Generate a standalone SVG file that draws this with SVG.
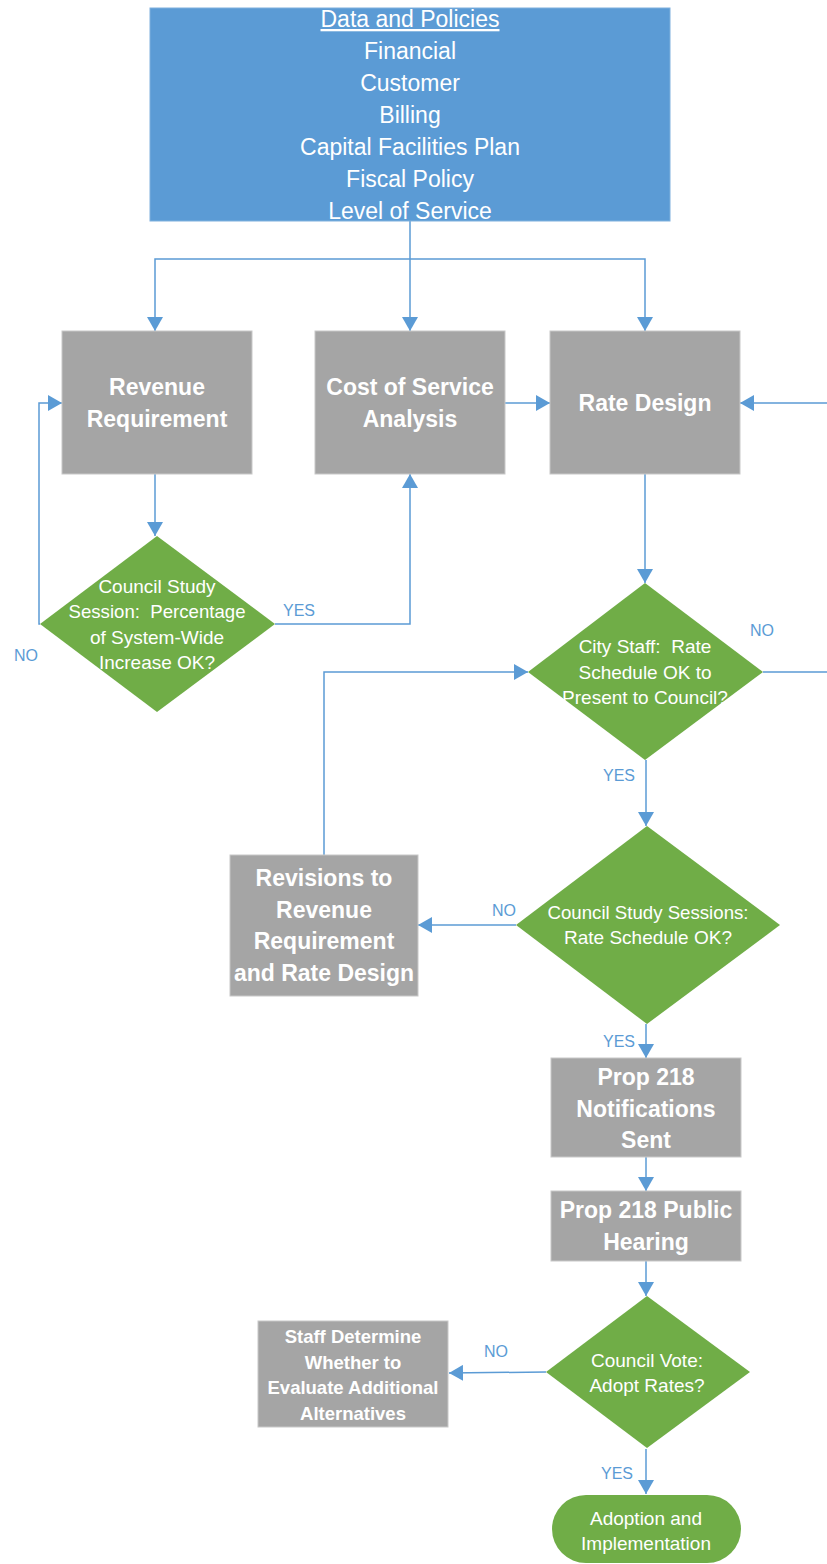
<svg xmlns="http://www.w3.org/2000/svg" width="827" height="1564" viewBox="0 0 827 1564">
<defs>
<style>
.blue{fill:#5B9BD5;}
.gray{fill:#A5A5A5;stroke:#C8C8C8;stroke-width:1;}
.green{fill:#70AD47;}
.t{font-family:"Liberation Sans",Arial,sans-serif;fill:#FFFFFF;text-anchor:middle;}
.top{font-size:23px;}
.b{font-size:23px;font-weight:bold;}
.bs{font-size:18.5px;font-weight:bold;}
.d{font-size:19px;}
.lbl{font-family:"Liberation Sans",Arial,sans-serif;font-size:16px;fill:#5B9BD5;}
.c{fill:none;stroke:#5B9BD5;stroke-width:1.5;}
</style>
<marker id="arr" markerUnits="userSpaceOnUse" markerWidth="14" markerHeight="16" viewBox="0 0 14 16" refX="14" refY="8" orient="auto">
<path d="M0,0 L14,8 L0,16 z" fill="#5B9BD5"/>
</marker>
</defs>
<rect width="827" height="1564" fill="#FFFFFF"/>

<g id="connectors">
<path class="c" d="M410,221 V331" marker-end="url(#arr)"/>
<path class="c" d="M410,259 H155 V331" marker-end="url(#arr)"/>
<path class="c" d="M410,259 H645 V331" marker-end="url(#arr)"/>
<path class="c" d="M505,403 H550" marker-end="url(#arr)"/>
<path class="c" d="M763,672 H832 V403 H740" marker-end="url(#arr)"/>
<path class="c" d="M155,474 V536" marker-end="url(#arr)"/>
<path class="c" d="M275,624 H410 V474" marker-end="url(#arr)"/>
<path class="c" d="M40,624 H39 V403 H62" marker-end="url(#arr)"/>
<path class="c" d="M645,474 V583" marker-end="url(#arr)"/>
<path class="c" d="M324,855 V672 H528" marker-end="url(#arr)"/>
<path class="c" d="M646,760 V826" marker-end="url(#arr)"/>
<path class="c" d="M516,925 H418" marker-end="url(#arr)"/>
<path class="c" d="M646,1024 V1058" marker-end="url(#arr)"/>
<path class="c" d="M646,1157 V1191" marker-end="url(#arr)"/>
<path class="c" d="M646,1261 V1296" marker-end="url(#arr)"/>
<path class="c" d="M546,1372 L449,1373" marker-end="url(#arr)"/>
<path class="c" d="M646,1449 V1494" marker-end="url(#arr)"/>
<text class="lbl" x="283" y="616">YES</text>
<text class="lbl" x="14" y="661">NO</text>
<text class="lbl" x="750" y="636">NO</text>
<text class="lbl" x="603" y="781">YES</text>
<text class="lbl" x="492" y="916">NO</text>
<text class="lbl" x="603" y="1047">YES</text>
<text class="lbl" x="484" y="1357">NO</text>
<text class="lbl" x="601" y="1479">YES</text>
</g>

<g id="data-policies">
<rect class="blue" x="150" y="8" width="520" height="213" stroke="#7FB0DD" stroke-width="1"/>
<text class="t top" x="410" y="27" text-decoration="underline">Data and Policies</text>
<text class="t top" x="410" y="59">Financial</text>
<text class="t top" x="410" y="91">Customer</text>
<text class="t top" x="410" y="123">Billing</text>
<text class="t top" x="410" y="155">Capital Facilities Plan</text>
<text class="t top" x="410" y="187">Fiscal Policy</text>
<text class="t top" x="410" y="219">Level of Service</text>
</g>

<g id="revenue-requirement">
<rect class="gray" x="62" y="331" width="190" height="143"/>
<text class="t b" x="157" y="395">Revenue</text>
<text class="t b" x="157" y="427">Requirement</text>
</g>

<g id="cost-of-service">
<rect class="gray" x="315" y="331" width="190" height="143"/>
<text class="t b" x="410" y="395">Cost of Service</text>
<text class="t b" x="410" y="427">Analysis</text>
</g>

<g id="rate-design">
<rect class="gray" x="550" y="331" width="190" height="143"/>
<text class="t b" x="645" y="411">Rate Design</text>
</g>

<g id="council-study-1">
<polygon class="green" points="157,536 275,624 157,712 40,624"/>
<text class="t d" x="157" y="593">Council Study</text>
<text class="t d" x="157" y="618" xml:space="preserve" textLength="177" lengthAdjust="spacingAndGlyphs">Session:  Percentage</text>
<text class="t d" x="157" y="644">of System-Wide</text>
<text class="t d" x="157" y="669">Increase OK?</text>
</g>

<g id="city-staff">
<polygon class="green" points="645,583 763,672 645,760 528,672"/>
<text class="t d" x="645" y="653" xml:space="preserve">City Staff:  Rate</text>
<text class="t d" x="645" y="679">Schedule OK to</text>
<text class="t d" x="645" y="704">Present to Council?</text>
</g>

<g id="revisions">
<rect class="gray" x="230" y="855" width="188" height="141"/>
<text class="t b" x="324" y="886">Revisions to</text>
<text class="t b" x="324" y="918">Revenue</text>
<text class="t b" x="324" y="949">Requirement</text>
<text class="t b" x="324" y="981" textLength="180" lengthAdjust="spacingAndGlyphs">and Rate Design</text>
</g>

<g id="council-study-2">
<polygon class="green" points="647,826 780,925 647,1024 516,925"/>
<text class="t d" x="648" y="919" textLength="201" lengthAdjust="spacingAndGlyphs">Council Study Sessions:</text>
<text class="t d" x="648" y="944">Rate Schedule OK?</text>
</g>

<g id="prop218-notifications">
<rect class="gray" x="551" y="1058" width="190" height="99"/>
<text class="t b" x="646" y="1085">Prop 218</text>
<text class="t b" x="646" y="1117">Notifications</text>
<text class="t b" x="646" y="1148">Sent</text>
</g>

<g id="prop218-hearing">
<rect class="gray" x="551" y="1191" width="190" height="70"/>
<text class="t b" x="646" y="1218">Prop 218 Public</text>
<text class="t b" x="646" y="1250">Hearing</text>
</g>

<g id="council-vote">
<polygon class="green" points="647,1296 750,1372 647,1448 546,1372"/>
<text class="t d" x="647" y="1367">Council Vote:</text>
<text class="t d" x="647" y="1392">Adopt Rates?</text>
</g>

<g id="staff-determine">
<rect class="gray" x="258" y="1321" width="190" height="106"/>
<text class="t bs" x="353" y="1343">Staff Determine</text>
<text class="t bs" x="353" y="1369">Whether to</text>
<text class="t bs" x="353" y="1394">Evaluate Additional</text>
<text class="t bs" x="353" y="1420">Alternatives</text>
</g>

<g id="adoption">
<rect class="green" x="552" y="1495" width="189" height="68" rx="34" ry="34"/>
<text class="t d" x="646" y="1525">Adoption and</text>
<text class="t d" x="646" y="1550">Implementation</text>
</g>
</svg>
